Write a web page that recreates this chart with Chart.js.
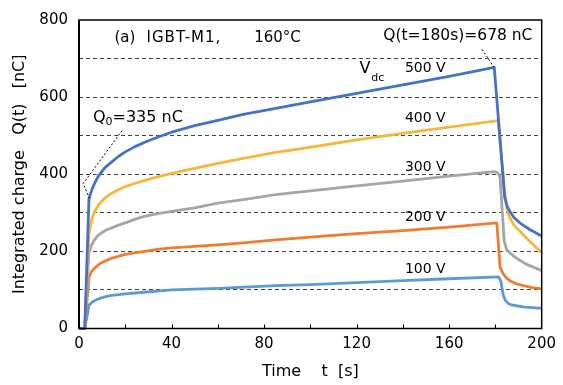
<!DOCTYPE html>
<html>
<head>
<meta charset="utf-8">
<script src="https://cdn.jsdelivr.net/npm/chart.js@4/dist/chart.umd.min.js"></script>
<style>
html,body{margin:0;padding:0;background:#fff;}
#wrap{width:563px;height:385px;}
</style>
</head>
<body>
<div id="wrap"><canvas id="c" width="563" height="385"></canvas></div>
<script>
// ---- data (time in s, charge in nC) ----
const seriesNames = ['500 V', '400 V', '300 V', '200 V', '100 V'];

const t500 = [0, 2.5, 4.3, 5, 5.7, 7, 8.5, 10, 11.3, 14.2, 17, 20, 24, 28.4, 34, 40, 50, 60, 71, 85, 100, 120, 140, 160, 179.5, 184, 185, 186.2, 188, 190.5, 195, 200];
const q500 = [0, 0, 336, 350, 362, 380, 396, 408, 418, 432, 446, 458, 471, 483, 496, 509, 526, 540, 555, 571, 588, 610, 632, 654, 677, 340, 318, 304, 288, 274, 256, 240];

const t400 = [0, 2.5, 4.3, 5, 5.7, 7, 8.5, 10, 12, 14.2, 17, 20, 24, 28.4, 34, 40, 50, 60, 71, 85, 100, 120, 140, 160, 181.2, 184.1, 185, 186, 188, 190.5, 195, 200];
const q400 = [0, 0, 244, 268, 287, 306, 321, 331, 342, 351, 360, 368, 376, 384, 393, 402, 415, 428, 441, 457, 470, 489, 506, 522, 539, 350, 310, 290, 268, 253, 225, 197];

const t300 = [0, 2.5, 4.3, 5.3, 6.4, 8, 10, 12, 14.2, 17, 20, 24, 28.4, 34, 40, 50, 60, 71, 85, 100, 120, 140, 160, 179.5, 181, 182, 183.8, 184.8, 186.5, 188, 190.5, 193.3, 200];
const q300 = [0, 0, 197, 214, 227, 240, 249, 256, 261, 268, 274, 283, 291, 298, 304, 313, 325, 334, 347, 357, 370, 382, 395, 407, 404, 392, 227, 205, 195, 187, 177, 167, 150];

const t200 = [0, 2.5, 4.3, 5.5, 7, 9, 11.3, 14, 17, 20, 24, 28.4, 34, 40, 50, 60, 71, 85, 100, 120, 140, 160, 180.6, 182, 183.4, 185, 186.2, 189, 192, 196, 200];
const q200 = [0, 0, 133, 148, 158, 168, 175, 182, 187, 192, 196, 200, 205, 209, 213, 217, 222, 230, 237, 246, 254, 263, 274, 160, 141, 130, 124, 116, 111, 106, 103];

const t100 = [0, 2.5, 4.3, 6, 8.5, 11, 14.2, 20, 28, 40, 60, 85, 100, 120, 140, 160, 181.3, 182.3, 183.4, 184.3, 185.5, 187, 189, 192, 200];
const q100 = [0, 0, 60, 70, 77, 82, 86, 90, 94, 100, 104, 111, 114, 119, 124, 129, 134, 124, 86, 73, 65, 61, 59, 56, 52];

const xTicks = [0, 40, 80, 120, 160, 200];
const yTicks = [0, 200, 400, 600, 800];

// ---- styling ----
const colors = ['#4472C4', '#F6B73C', '#A5A5A5', '#ED7D31', '#5B9BD5'];
const FONT = '"DejaVu Sans", Verdana, sans-serif';

const pairs = (ts, qs) => ts.map((t, i) => ({x: t, y: qs[i]}));
const seriesData = [pairs(t500, q500), pairs(t400, q400), pairs(t300, q300), pairs(t200, q200), pairs(t100, q100)];

const datasets = seriesData.map((d, i) => ({
  label: seriesNames[i],
  data: d,
  borderColor: colors[i],
  backgroundColor: colors[i],
  borderWidth: 2.8,
  pointRadius: 0,
  tension: 0,
  borderJoinStyle: 'round',
  fill: false,
  clip: 2
}));

// annotation texts (positions in data units)
const notes = [
  {text: '500 V', x: 149.7, y: 675},
  {text: '400 V', x: 149.7, y: 545},
  {text: '300 V', x: 149.7, y: 417},
  {text: '200 V', x: 149.7, y: 288},
  {text: '100 V', x: 149.7, y: 153}
];

const annoPlugin = {
  id: 'anno',
  afterDraw(chart) {
    const {ctx, chartArea: a, scales: {x, y}} = chart;
    ctx.save();
    // inside tick marks on x axis
    ctx.strokeStyle = '#000';
    ctx.lineWidth = 1;
    for (let v = 20; v < 200; v += 20) {
      const px = Math.round(x.getPixelForValue(v)) + 0.5;
      ctx.beginPath();
      ctx.moveTo(px, a.bottom);
      ctx.lineTo(px, a.bottom - 4);
      ctx.stroke();
    }
    // frame
    ctx.lineWidth = 1.5;
    ctx.strokeStyle = '#000';
    ctx.strokeRect(a.left, a.top, a.right - a.left, a.bottom - a.top);
    ctx.lineWidth = 2;
    ctx.beginPath();
    ctx.moveTo(a.left, a.top); ctx.lineTo(a.left, a.bottom);
    ctx.stroke();

    // texts
    ctx.fillStyle = '#000';
    ctx.textBaseline = 'middle';
    ctx.font = '14px ' + FONT;
    ctx.textAlign = 'center';
    notes.forEach(n => {
      ctx.fillText(n.text, x.getPixelForValue(n.x), y.getPixelForValue(n.y));
    });
    // Vdc
    ctx.textAlign = 'left';
    ctx.font = '16px ' + FONT;
    let px = x.getPixelForValue(121.2), py = y.getPixelForValue(673);
    ctx.fillText('V', px, py);
    const vw = ctx.measureText('V').width;
    ctx.font = '11px ' + FONT;
    ctx.fillText('dc', px + vw + 1, py + 9);

    // title
    ctx.font = '15px ' + FONT;
    ctx.textAlign = 'left';
    const ty = y.getPixelForValue(754);
    ctx.fillText('(a)', x.getPixelForValue(15.3), ty);
    ctx.letterSpacing = '1px';
    ctx.fillText('IGBT-M1,', x.getPixelForValue(29.2), ty);
    ctx.letterSpacing = '0px';
    ctx.fillText('160\u00B0C', x.getPixelForValue(75.7), ty);

    // Q(t=180s)
    ctx.textAlign = 'right';
    ctx.font = '15.5px ' + FONT;
    ctx.fillText('Q(t=180s)=678 nC', x.getPixelForValue(196), y.getPixelForValue(758));

    // Q0=335 nC
    ctx.textAlign = 'left';
    px = x.getPixelForValue(6); py = y.getPixelForValue(547);
    ctx.font = '16px ' + FONT;
    ctx.fillText('Q', px, py);
    const w = ctx.measureText('Q').width;
    ctx.font = '11px ' + FONT;
    ctx.fillText('0', px + w, py + 5);
    const w2 = ctx.measureText('0').width;
    ctx.font = '16px ' + FONT;
    ctx.fillText('=335 nC', px + w + w2, py);

    // leader lines
    ctx.setLineDash([2, 2]);
    ctx.lineWidth = 1;
    ctx.beginPath();
    ctx.moveTo(x.getPixelForValue(18.6), y.getPixelForValue(513));
    ctx.lineTo(x.getPixelForValue(1.8), y.getPixelForValue(376));
    ctx.lineTo(x.getPixelForValue(4.5), y.getPixelForValue(338));
    ctx.stroke();
    ctx.beginPath();
    ctx.moveTo(x.getPixelForValue(174.2), y.getPixelForValue(724));
    ctx.lineTo(x.getPixelForValue(179.3), y.getPixelForValue(678));
    ctx.stroke();
    ctx.restore();
  }
};

new Chart(document.getElementById('c'), {
  type: 'line',
  data: {datasets},
  options: {
    responsive: false,
    animation: false,
    layout: {padding: {left: 0, right: 14, top: 16, bottom: 0}},
    plugins: {legend: {display: false}, tooltip: {enabled: false}},
    scales: {
      x: {
        type: 'linear', min: 0, max: 200,
        afterBuildTicks: s => { s.ticks = xTicks.map(v => ({value: v})); },
        ticks: {font: {family: FONT, size: 15}, color: '#000', padding: 7, maxRotation: 0, autoSkip: false},
        grid: {display: false, drawTicks: false},
        border: {display: false},
        title: {display: true, text: 'Time    t  [s]', color: '#000', font: {family: FONT, size: 16}, padding: {top: 0, bottom: 4}},
        afterFit: s => { s.height = 56.5; }
      },
      y: {
        type: 'linear', min: 0, max: 800,
        ticks: {stepSize: 100, font: {family: FONT, size: 15}, color: '#000', padding: 11, autoSkip: false,
                callback: v => (yTicks.includes(v) ? String(v) : '')},
        grid: {color: c => (c.tick && c.tick.value > 0 && c.tick.value < 800) ? '#444' : 'rgba(0,0,0,0)', lineWidth: 1, drawTicks: false},
        border: {display: false, dash: [4, 3]},
        title: {display: true, text: 'Integrated charge   Q(t)   [nC]', color: '#000', font: {family: FONT, size: 16}, padding: {top: 10, bottom: 0}},
        afterFit: s => { s.width = 79; }
      }
    }
  },
  plugins: [annoPlugin]
});
</script>
</body>
</html>
